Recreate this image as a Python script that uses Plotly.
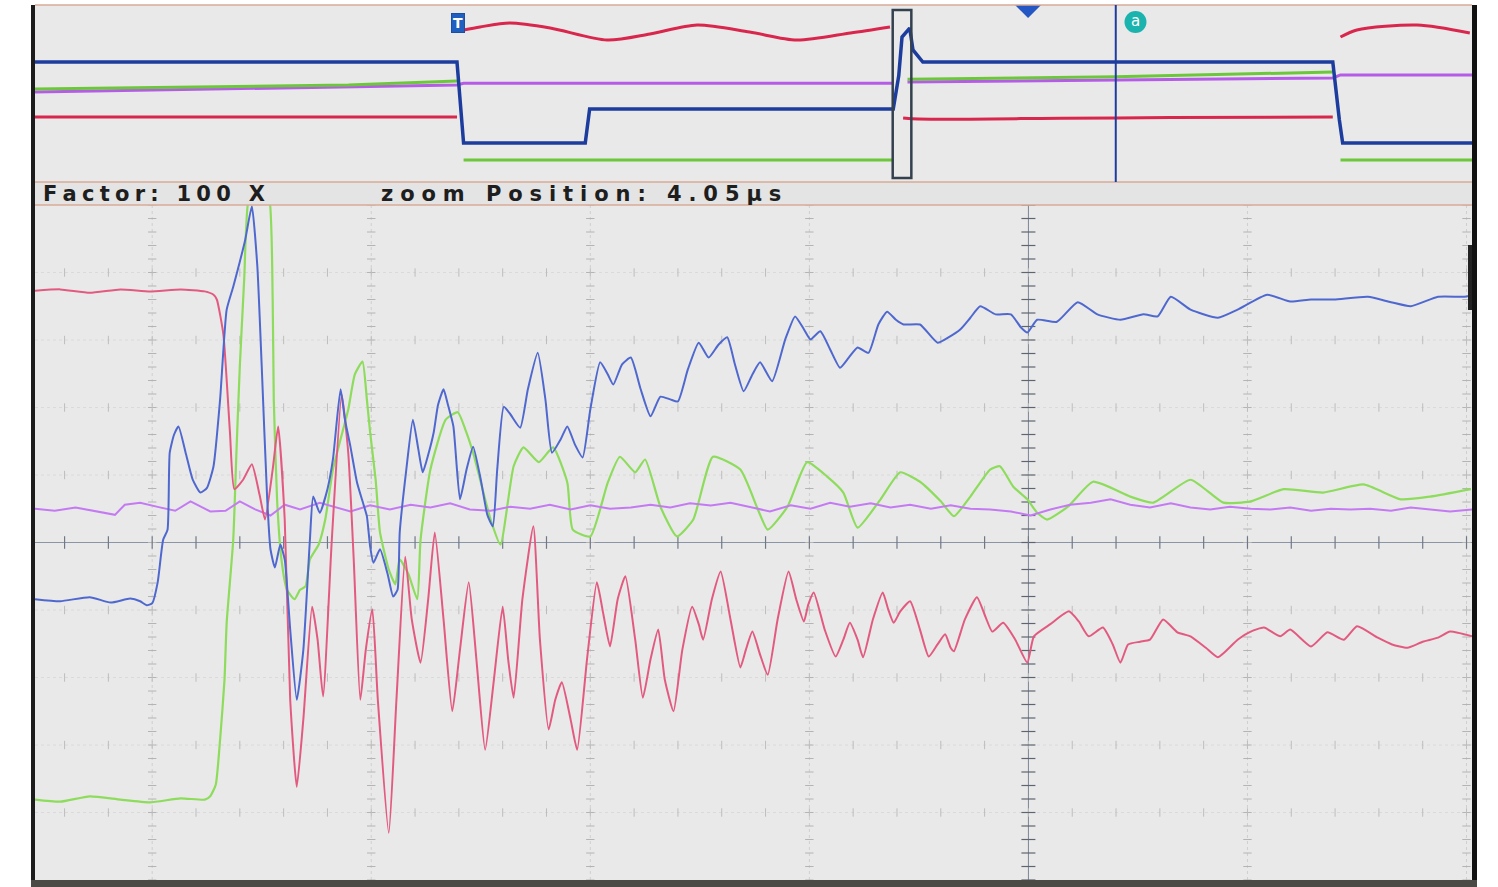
import numpy as np
import plotly.graph_objects as go

# ---------------- zoomed acquisition (time in ns from zoom centre, amplitude in divisions)
red_t = [-90.7, -88.4, -85.7, -82.9, -80.2, -77.4, -75.2, -74.4, -74.1, -73.5, -72.9, -72.5,
         -71.7, -70.9, -70.2, -69.7, -69.0, -68.5, -67.9, -67.4, -66.8, -66.2, -65.4, -64.9,
         -64.4, -63.6, -62.7, -62.1, -61.6, -61.0, -60.5, -59.9, -59.4, -58.4, -57.7, -56.9,
         -56.3, -55.5, -54.8, -54.2, -53.4, -52.6, -51.9, -51.1, -50.4, -49.6, -48.8, -48.0,
         -47.5, -47.0, -46.2, -45.2, -44.6, -43.8, -43.2, -42.6, -41.8, -41.2, -40.3, -39.4,
         -38.8, -38.2, -37.5, -36.8, -35.9, -35.2, -34.5, -33.8, -33.2, -32.4, -31.6, -30.7,
         -30.1, -29.7, -28.9, -28.1, -27.2, -26.3, -25.8, -25.2, -24.5, -23.8, -22.9, -21.9,
         -21.2, -20.5, -20.1, -19.6, -18.6, -17.6, -16.9, -16.3, -15.6, -15.1, -14.2, -13.3,
         -12.8, -12.3, -11.7, -10.8, -9.9, -9.1, -8.3, -7.6, -7.1, -6.8, -5.8, -4.7, -3.9,
         -3.3, -2.3, -1.2, -0.1, 0.5, 2.0, 3.7, 4.6, 5.5, 6.8, 7.7, 8.4, 9.1, 10.2, 11.1,
         12.3, 13.6, 14.8, 16.2, 17.3, 19.1, 20.3, 21.5, 23.0, 23.9, 25.8, 27.3, 28.8, 30.0,
         31.9, 33.2, 34.6, 36.0, 37.4, 38.5, 40.5]
red_v = [3.73, 3.75, 3.70, 3.75, 3.72, 3.75, 3.72, 3.67, 3.60, 3.08, 1.63, 0.79,
         0.93, 1.16, 0.71, 0.34, 1.08, 1.72, 0.34, -2.33, -3.62, -2.62, -0.95, -1.44,
         -2.28, 0.04, 2.19, 1.33, -0.25, -2.33, -1.59, -0.99, -2.33, -4.30, -2.33, -0.21,
         -1.14, -1.78, -0.84, 0.15, -1.14, -2.50, -1.59, -0.59, -1.73, -3.07, -2.03, -0.95,
         -1.73, -2.30, -0.84, 0.24, -1.44, -2.77, -2.33, -2.07, -2.62, -3.07, -1.73, -0.59,
         -1.07, -1.54, -0.84, -0.50, -1.44, -2.30, -1.73, -1.29, -2.03, -2.50, -1.59, -0.95,
         -1.21, -1.44, -0.84, -0.43, -1.14, -1.85, -1.59, -1.32, -1.66, -1.96, -1.14, -0.43,
         -0.84, -1.17, -0.92, -0.74, -1.29, -1.69, -1.44, -1.19, -1.44, -1.70, -1.14, -0.74,
         -0.99, -1.19, -1.02, -0.87, -1.29, -1.69, -1.51, -1.36, -1.56, -1.61, -1.14, -0.81, -1.11,
         -1.32, -1.19, -1.44, -1.78, -1.39, -1.21, -1.02, -1.17, -1.39, -1.26, -1.51, -1.78, -1.51, -1.47, -1.44,
         -1.14, -1.33, -1.39, -1.56, -1.70, -1.44, -1.32, -1.26, -1.39, -1.29, -1.54, -1.33, -1.44, -1.24,
         -1.41, -1.51, -1.56, -1.47, -1.41, -1.32, -1.39]

blue_t = [-90.7, -88.4, -85.7, -83.8, -82.0, -81.1, -80.5, -80.0, -79.5, -79.0, -78.6, -78.4,
          -78.0, -77.6, -76.9, -76.3, -75.6, -75.0, -74.4, -73.8, -73.2, -72.6, -72.0, -71.5,
          -70.9, -70.4, -70.0, -69.5, -69.2, -68.8, -68.3, -67.9, -67.4, -66.8, -66.2, -65.6,
          -65.3, -64.7, -64.0, -63.5, -62.8, -62.4, -61.9, -61.3, -60.7, -60.4, -60.1, -59.8,
          -59.2, -58.5, -58.0, -57.6, -57.4, -56.8, -56.2, -55.7, -55.3, -54.8, -54.3, -53.9,
          -53.4, -53.0, -52.5, -51.9, -51.3, -50.7, -50.0, -49.4, -48.9, -48.5, -47.9, -47.3,
          -46.4, -45.7, -44.8, -44.1, -43.5, -42.7, -42.1, -41.4, -40.7, -40.0, -39.1, -38.4,
          -37.9, -37.1, -36.3, -35.4, -34.5, -33.6, -32.7, -32.0, -31.1, -30.1, -29.2, -28.3,
          -27.5, -26.8, -26.0, -25.2, -24.5, -23.4, -22.2, -21.3, -20.5, -19.9, -19.0, -18.1,
          -17.2, -16.4, -15.6, -14.6, -13.7, -12.9, -12.1, -11.4, -9.9, -8.3, -7.3, -6.2,
          -5.3, -4.4, -3.0, -1.6, -0.7, -0.1, 0.8, 2.6, 4.5, 6.3, 8.4, 10.5, 11.8, 13.0,
          14.8, 17.3, 19.1, 21.8, 23.9, 25.8, 27.9, 31.0, 33.1, 34.9, 37.4, 39.7, 40.5]
blue_v = [-0.84, -0.87, -0.81, -0.89, -0.83, -0.87, -0.93, -0.90, -0.59, 0.04, 0.19, 1.33,
          1.60, 1.72, 1.30, 0.93, 0.74, 0.81, 1.13, 2.12, 3.45, 3.79, 4.16, 4.49,
          4.98, 4.09, 2.61, 0.64, -0.10, -0.37, -0.03, -0.25, -1.29, -2.33, -1.59, 0.04,
          0.68, 0.44, 0.79, 1.23, 2.27, 1.82, 1.42, 0.89, 0.56, 0.39, -0.06, -0.30,
          -0.10, -0.47, -0.80, -0.70, 0.15, 1.08, 1.82, 1.38, 1.04, 1.30, 1.63, 2.04,
          2.27, 2.04, 1.72, 0.64, 1.08, 1.42, 0.93, 0.41, 0.24, 1.08, 2.01, 1.90,
          1.70, 2.27, 2.81, 2.12, 1.33, 1.53, 1.72, 1.45, 1.26, 1.97, 2.67, 2.49,
          2.34, 2.64, 2.74, 2.27, 1.87, 2.16, 2.12, 2.09, 2.56, 2.96, 2.74, 2.93,
          3.04, 2.64, 2.24, 2.49, 2.67, 2.39, 3.01, 3.35, 3.16, 3.01, 3.13, 2.86,
          2.59, 2.74, 2.89, 2.81, 3.23, 3.42, 3.30, 3.23, 3.23, 2.96, 3.04, 3.16,
          3.33, 3.50, 3.38, 3.38, 3.19, 3.11, 3.30, 3.27, 3.56, 3.38, 3.30, 3.38, 3.35, 3.64,
          3.45, 3.33, 3.45, 3.67, 3.57, 3.60, 3.60, 3.64, 3.56, 3.50, 3.64, 3.64, 3.66]

green_t = [-90.7, -88.4, -85.7, -82.9, -80.2, -77.4, -75.2, -74.7, -74.2, -73.8, -73.4, -73.2,
           -72.6, -72.3, -72.0, -71.6, -71.2, -70.3, -69.4, -69.0, -68.9, -68.6, -68.2, -67.7,
           -67.0, -66.5, -66.0, -65.6, -64.8, -64.2, -63.5, -62.8, -62.1, -61.5, -60.8, -60.4,
           -60.1, -59.6, -59.2, -58.4, -57.8, -57.4, -56.6, -55.8, -55.5, -54.6, -53.2, -52.1,
           -51.4, -50.7, -49.1, -48.2, -47.0, -46.1, -44.7, -43.4, -42.1, -41.6, -40.0, -38.4,
           -37.3, -35.9, -35.0, -33.6, -32.1, -30.6, -28.8, -26.3, -24.7, -23.8, -22.0, -20.2,
           -18.4, -16.9, -15.6, -13.5, -11.7, -9.9, -8.0, -6.8, -5.3, -3.5, -2.6, -1.4,
           -0.1, 0.8, 1.7, 3.6, 5.9, 9.3, 11.4, 14.8, 17.8, 20.3, 23.3, 26.9, 30.6, 34.0,
           36.7, 40.4]
green_v = [-3.81, -3.84, -3.76, -3.81, -3.85, -3.79, -3.81, -3.76, -3.59, -2.92, -2.04, -1.19,
           0.04, 1.38, 2.61, 3.90, 5.08, 5.30, 5.20, 3.60, 2.12, 0.64, -0.25, -0.70,
           -0.84, -0.70, -0.65, -0.25, -0.03, 0.34, 1.08, 1.53, 1.97, 2.49, 2.68, 2.12,
           1.63, 0.93, 0.15, -0.40, -0.62, -0.25, -0.47, -0.84, 0.04, 1.08, 1.82, 1.93,
           1.67, 1.33, 0.34, -0.03, 1.13, 1.41, 1.19, 1.41, 0.89, 0.19, 0.09, 0.89,
           1.27, 1.04, 1.23, 0.53, 0.09, 0.34, 1.27, 1.08, 0.49, 0.19, 0.53, 1.19,
           0.98, 0.74, 0.22, 0.64, 1.04, 0.90, 0.61, 0.39, 0.68, 1.08, 1.13, 0.83,
           0.64, 0.44, 0.34, 0.53, 0.90, 0.68, 0.59, 0.93, 0.59, 0.61, 0.79, 0.74, 0.86, 0.64,
           0.68, 0.79]

violet_t = [-90.7, -88.9, -87.0, -85.2, -83.4, -82.5, -81.1, -79.3, -77.9, -76.5,
            -74.7, -73.3, -72.0, -70.6, -69.2, -67.9, -66.5, -64.7, -63.3, -61.9,
            -60.1, -58.3, -56.4, -54.6, -52.8, -51.0, -49.1, -47.3, -45.5, -43.7,
            -41.8, -40.0, -38.2, -36.3, -34.5, -32.7, -30.9, -29.0, -27.2, -25.4,
            -23.6, -21.7, -19.9, -18.1, -16.3, -14.4, -12.6, -10.8, -8.9, -7.1,
            -5.3, -3.5, -1.6, 0.2, 2.0, 3.8, 5.7, 7.5, 9.3, 11.1,
            13.0, 14.8, 16.6, 18.4, 20.3, 22.1, 23.9, 25.8, 27.6, 29.4,
            31.2, 33.1, 34.9, 36.7, 38.5, 40.5]
violet_v = [0.50, 0.47, 0.52, 0.46, 0.41, 0.56, 0.59, 0.52, 0.47, 0.61,
            0.46, 0.47, 0.61, 0.49, 0.40, 0.56, 0.49, 0.59, 0.52, 0.46,
            0.55, 0.49, 0.56, 0.52, 0.58, 0.49, 0.47, 0.53, 0.50, 0.56,
            0.49, 0.55, 0.50, 0.52, 0.56, 0.52, 0.58, 0.55, 0.59, 0.52,
            0.46, 0.55, 0.50, 0.59, 0.53, 0.58, 0.52, 0.56, 0.50, 0.55,
            0.50, 0.49, 0.46, 0.40, 0.49, 0.56, 0.59, 0.64, 0.56, 0.52,
            0.58, 0.52, 0.49, 0.53, 0.50, 0.49, 0.52, 0.47, 0.50, 0.49,
            0.50, 0.47, 0.52, 0.49, 0.46, 0.49]

# ---------------- full record overview (time in µs from trigger, amplitude in divisions)
ov_blue_t = [-3.86, -0.01, 0.05, 1.16, 1.20, 3.97, 4.02, 4.05, 4.12, 4.15, 4.24, 7.98, 8.04, 8.07, 9.25]
ov_blue_v = [1.78, 1.78, -2.80, -2.80, -0.88, -0.88, 1.00, 3.19, 3.70, 2.46, 1.78, 1.78, -1.50, -2.80, -2.80]
ov_green_t = [-3.86, -1.0, -0.01, None, 0.05, 3.97, None, 4.10, 6.0, 7.98, None, 8.05, 9.25]
ov_green_v = [0.25, 0.48, 0.71, None, -3.76, -3.76, None, 0.80, 0.95, 1.21, None, -3.76, -3.76]
ov_violet_t = [-3.86, -0.01, 0.05, 3.97, None, 4.10, 6.0, 7.98, 8.05, 9.25]
ov_violet_v = [0.08, 0.48, 0.58, 0.58, None, 0.65, 0.75, 0.88, 1.05, 1.05]
ov_red_t = [-3.86, -1.5, -0.01, None, 0.05, 0.20, 0.47, 0.84, 1.36, 1.75, 2.18, 2.66, 3.09, 3.58, 3.94,
            None, 4.06, 4.20, 5.5, 6.5, 7.98, None, 8.05, 8.20, 8.75, 9.23]
ov_red_v = [-1.33, -1.33, -1.33, None, 3.59, 3.76, 3.98, 3.70, 3.02, 3.36, 3.87, 3.47, 3.02, 3.42, 3.76,
            None, -1.38, -1.44, -1.40, -1.36, -1.33, None, 3.19, 3.59, 3.87, 3.42]

zoom_pos_us = 4.05
zoom_half_us = 0.085
cursor_a_us = 6.0
factor_text = "Factor: 100 X"
position_text = "zoom Position: 4.05µs"

W, H = 1498, 887
X0, X1 = 35, 1472          # screen area, px
OV_TOP, OV_BOT = 5, 182
MAIN_TOP, MAIN_BOT = 205, 880


def px(v):
    return v / W


def py(v):
    return 1 - v / H


BG = "#e9e9e9"

fig = go.Figure()

# ---- graticule of the zoom window
major_x = [-80, -60, -40, -20, 20, 40]
col_y = np.round(np.arange(-5, 5.001, 0.2), 2)
cx, cy = np.meshgrid(major_x, col_y)
fig.add_trace(go.Scatter(x=cx.ravel(), y=cy.ravel(), mode="markers", hoverinfo="skip",
                         marker=dict(symbol="line-ew", size=6, line=dict(color="#b4b4b4", width=1)),
                         xaxis="x", yaxis="y", showlegend=False))
row_x = np.arange(-88, 41, 4)
row_y = [-4, -3, -2, -1, 1, 2, 3, 4]
rx, ry = np.meshgrid(row_x, row_y)
fig.add_trace(go.Scatter(x=rx.ravel(), y=ry.ravel(), mode="markers", hoverinfo="skip",
                         marker=dict(symbol="line-ns", size=6, line=dict(color="#bdbdbd", width=1)),
                         xaxis="x", yaxis="y", showlegend=False))
# centre axes tick marks
fig.add_trace(go.Scatter(x=np.zeros_like(col_y), y=col_y, mode="markers", hoverinfo="skip",
                         marker=dict(symbol="line-ew", size=10, line=dict(color="#5e6470", width=1.2)),
                         xaxis="x", yaxis="y", showlegend=False))
fig.add_trace(go.Scatter(x=row_x, y=np.zeros_like(row_x), mode="markers", hoverinfo="skip",
                         marker=dict(symbol="line-ns", size=9, line=dict(color="#707888", width=1.2)),
                         xaxis="x", yaxis="y", showlegend=False))

# ---- zoomed waveforms
wave = dict(mode="lines", hoverinfo="skip", showlegend=False, xaxis="x", yaxis="y")
fig.add_trace(go.Scatter(x=green_t, y=green_v, line=dict(color="#8ddc5c", width=2.2, shape="spline", smoothing=0.5), **wave))
fig.add_trace(go.Scatter(x=violet_t, y=violet_v, line=dict(color="#c47af2", width=2.0, shape="linear"), **wave))
fig.add_trace(go.Scatter(x=red_t, y=red_v, line=dict(color="#e35a80", width=2.0, shape="spline", smoothing=0.5), **wave))
fig.add_trace(go.Scatter(x=blue_t, y=blue_v, line=dict(color="#4f68cf", width=2.0, shape="spline", smoothing=0.5), **wave))

# ---- overview waveforms
ov = dict(mode="lines", hoverinfo="skip", showlegend=False, xaxis="x2", yaxis="y2", connectgaps=False)
fig.add_trace(go.Scatter(x=ov_violet_t, y=ov_violet_v, line=dict(color="#b55ce6", width=3), **ov))
fig.add_trace(go.Scatter(x=ov_green_t, y=ov_green_v, line=dict(color="#6cc83a", width=3), **ov))
fig.add_trace(go.Scatter(x=ov_red_t, y=ov_red_v, line=dict(color="#d9264c", width=3, shape="spline", smoothing=0.8), **ov))
fig.add_trace(go.Scatter(x=ov_blue_t, y=ov_blue_v, line=dict(color="#1d3d9e", width=3.5), **ov))

# cursor "a" badge and horizontal-position marker (half hidden under the top edge)
fig.add_trace(go.Scatter(x=[cursor_a_us + 0.18], y=[4.04], mode="markers+text", text=["a"],
                         textfont=dict(color="white", size=15, family="DejaVu Sans"),
                         marker=dict(size=22, color="#1bb3ad"), xaxis="x2", yaxis="y2",
                         hoverinfo="skip", showlegend=False, cliponaxis=False))
fig.add_trace(go.Scatter(x=[5.2], y=[5.0], mode="markers",
                         marker=dict(size=20, color="#2456c4", symbol="diamond"), xaxis="x2", yaxis="y2",
                         hoverinfo="skip", showlegend=False, cliponaxis=True))

shapes = []
# label strip between the two panes
shapes.append(dict(type="rect", xref="paper", yref="paper", x0=px(X0), x1=px(X1),
                   y0=py(MAIN_TOP), y1=py(OV_BOT), fillcolor="#e4e4e4", line=dict(width=0), layer="below"))
for yy in (OV_TOP, OV_BOT, MAIN_TOP):
    shapes.append(dict(type="line", xref="paper", yref="paper", x0=px(X0), x1=px(X1),
                       y0=py(yy), y1=py(yy), line=dict(color="#d7ab98", width=1.5)))
# faint dotted column lines
for xv in major_x:
    shapes.append(dict(type="line", xref="x", yref="y domain", x0=xv, x1=xv, y0=0, y1=1,
                       line=dict(color="#cfcfcf", width=1, dash="dot"), layer="below"))
for yv in row_y:
    shapes.append(dict(type="line", xref="x domain", yref="y", x0=0, x1=1, y0=yv, y1=yv,
                       line=dict(color="#dadada", width=1, dash="dot"), layer="below"))
# centre cross of the graticule
shapes.append(dict(type="line", xref="x", yref="y domain", x0=0, x1=0, y0=0, y1=1,
                   line=dict(color="#7b8494", width=1), layer="below"))
shapes.append(dict(type="line", xref="x domain", yref="y", x0=0, x1=1, y0=0, y1=0,
                   line=dict(color="#8a96a6", width=1), layer="below"))
# zoom window box and cursor in the overview
shapes.append(dict(type="rect", xref="x2", yref="y2", x0=zoom_pos_us - zoom_half_us, x1=zoom_pos_us + zoom_half_us,
                   y0=-4.77, y1=4.72, line=dict(color="#34404e", width=2.5)))
shapes.append(dict(type="line", xref="x2", yref="y2 domain", x0=cursor_a_us, x1=cursor_a_us, y0=0, y1=1,
                   line=dict(color="#1d3d9e", width=2)))
# screen bezel
shapes.append(dict(type="rect", xref="paper", yref="paper", x0=px(31), x1=px(X0), y0=0, y1=py(OV_TOP),
                   fillcolor="#1c1c1c", line=dict(width=0)))
shapes.append(dict(type="rect", xref="paper", yref="paper", x0=px(X1), x1=px(1477), y0=0, y1=py(OV_TOP),
                   fillcolor="#111111", line=dict(width=0)))
shapes.append(dict(type="rect", xref="paper", yref="paper", x0=px(31), x1=px(1477), y0=0, y1=py(MAIN_BOT),
                   fillcolor="#4b4a45", line=dict(width=0)))
shapes.append(dict(type="rect", xref="paper", yref="paper", x0=px(1468), x1=px(X1), y0=py(310), y1=py(245),
                   fillcolor="#222222", line=dict(width=0)))

annotations = [
    dict(text="T", xref="x2", yref="y2", x=0.0, y=3.98, showarrow=False,
         font=dict(family="DejaVu Sans", size=14, color="white", weight="bold"),
         bgcolor="#1f5fbf", bordercolor="#1a4fa3", borderwidth=1, borderpad=1),
    dict(text="\u2005".join(factor_text), xref="paper", yref="paper", x=px(41), y=py(194),
         xanchor="left", yanchor="middle", showarrow=False,
         font=dict(family="DejaVu Sans", size=21, color="#1e1e1e", weight="bold")),
    dict(text="\u2004".join(position_text), xref="paper", yref="paper", x=px(379), y=py(194),
         xanchor="left", yanchor="middle", showarrow=False,
         font=dict(family="DejaVu Sans", size=21, color="#1e1e1e", weight="bold")),
]

axis_off = dict(showgrid=False, zeroline=False, showticklabels=False, ticks="", showline=False)
fig.update_layout(
    width=W, height=H, margin=dict(l=0, r=0, t=0, b=0),
    paper_bgcolor="white", plot_bgcolor=BG,
    xaxis=dict(domain=[px(X0), px(X1)], range=[-90.7, 40.5], anchor="y", **axis_off),
    yaxis=dict(domain=[py(MAIN_BOT), py(MAIN_TOP)], range=[-5, 5], anchor="x", **axis_off),
    xaxis2=dict(domain=[px(X0), px(X1)], range=[-3.86, 9.25], anchor="y2", **axis_off),
    yaxis2=dict(domain=[py(OV_BOT), py(OV_TOP)], range=[-5, 5], anchor="x2", **axis_off),
    shapes=shapes, annotations=annotations,
)

fig.write_html("out.html")
